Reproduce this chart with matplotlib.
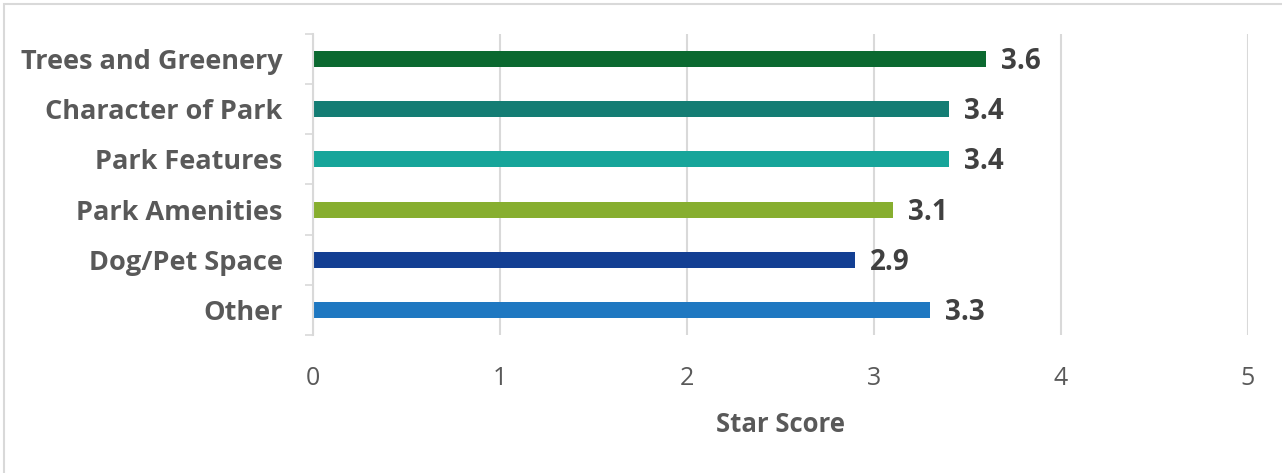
import matplotlib.pyplot as plt
from matplotlib.patches import Rectangle

categories = ['Trees and Greenery', 'Character of Park', 'Park Features',
              'Park Amenities', 'Dog/Pet Space', 'Other']
scores = [3.6, 3.4, 3.4, 3.1, 2.9, 3.3]
colors = ['#0B6930', '#147D74', '#17A59A', '#87AE2F', '#133F93', '#1F78C1']
x_ticks = [0, 1, 2, 3, 4, 5]

plt.rcParams['font.family'] = ['Open Sans', 'DejaVu Sans']

fig = plt.figure(figsize=(12.82, 4.73), dpi=100)
ax = fig.add_axes([313 / 1282, 1 - 335 / 473, 935 / 1282, 301 / 473])

# top category first
ypos = list(range(len(categories)))[::-1]
ax.barh(ypos, scores, height=0.32, color=colors, zorder=3)

for y, v in zip(ypos, scores):
	ax.text(v + 0.08, y - 0.05, f'{v:.1f}', va='center', ha='left',
	        fontsize=20, fontweight='bold', color='#404040')

ax.set_xlim(0, 5)
ax.set_ylim(-0.5, len(categories) - 0.5)
ax.set_xticks(x_ticks)
ax.set_xticklabels([str(t) for t in x_ticks], fontsize=18, color='#595959')
ax.set_yticks(ypos)
ax.set_yticklabels(categories, fontsize=19.5, fontweight='bold', color='#595959')
ax.set_yticks([i - 0.5 for i in range(len(categories) + 1)], minor=True)

ax.tick_params(axis='x', length=0, pad=22)
ax.tick_params(axis='y', which='major', length=0, pad=22)
ax.tick_params(axis='y', which='minor', length=6, width=1.2, color='#d9d9d9')

ax.grid(axis='x', color='#d9d9d9', linewidth=1.5, zorder=0)
for s in ['top', 'right', 'bottom']:
	ax.spines[s].set_visible(False)
ax.spines['left'].set_color('#d9d9d9')
ax.spines['left'].set_linewidth(1.5)
ax.spines['left'].set_zorder(4)

ax.set_xlabel('Star Score', fontsize=18.5, fontweight='bold', color='#595959', labelpad=15)

# chart frame
fig.patches.append(Rectangle((4 / 1282, -0.1), 1.2, 1 - 4 / 473 + 0.1,
                             transform=fig.transFigure, fill=False,
                             edgecolor='#d9d9d9', linewidth=1.5))

fig.savefig('out.png', dpi=100)
